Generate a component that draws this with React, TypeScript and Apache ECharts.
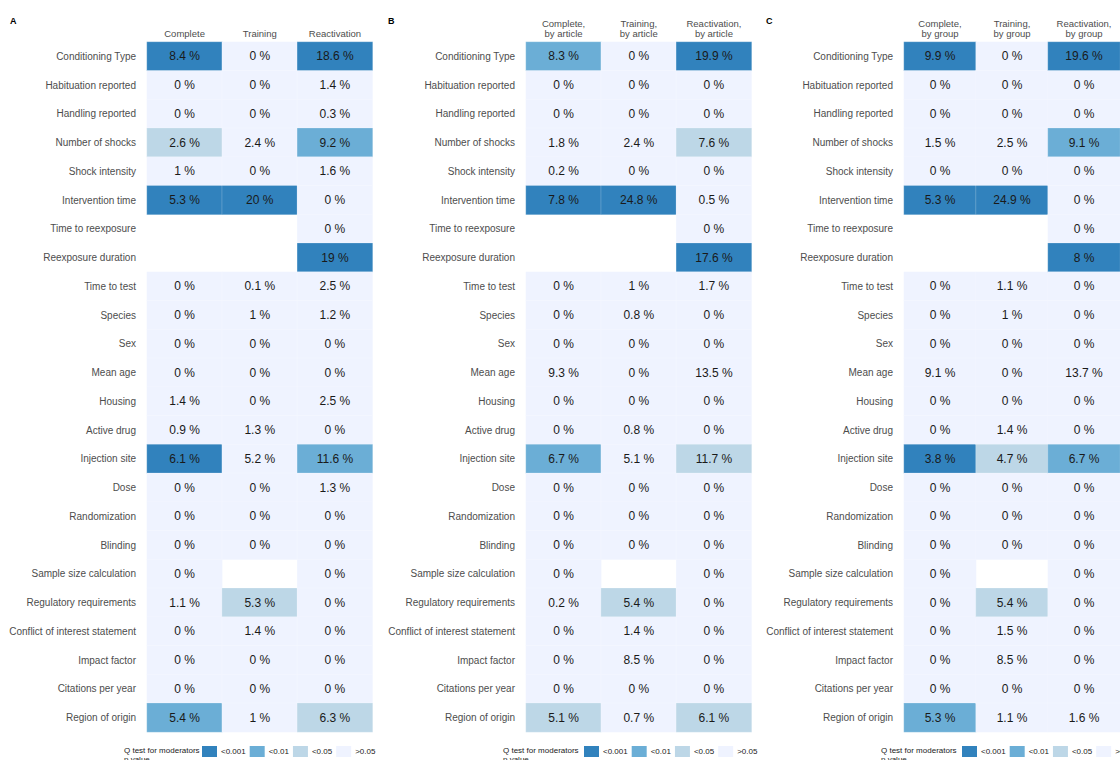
import React, { useEffect, useRef } from "react";
import * as echarts from "echarts";

const rows = [
  "Conditioning Type", "Habituation reported", "Handling reported", "Number of shocks",
  "Shock intensity", "Intervention time", "Time to reexposure", "Reexposure duration",
  "Time to test", "Species", "Sex", "Mean age", "Housing", "Active drug", "Injection site",
  "Dose", "Randomization", "Blinding", "Sample size calculation", "Regulatory requirements",
  "Conflict of interest statement", "Impact factor", "Citations per year", "Region of origin",
];

const colsA = ["Complete", "Training", "Reactivation"];
const colsB = ["Complete,\nby article", "Training,\nby article", "Reactivation,\nby article"];
const colsC = ["Complete,\nby group", "Training,\nby group", "Reactivation,\nby group"];

const pLevels = ["<0.001", "<0.01", "<0.05", ">0.05"];
const pColors = ["#3182bd", "#6baed6", "#bdd7e7", "#eff3ff"];

// Panel A values (% heterogeneity explained) and p-level index (0:<0.001, 1:<0.01, 2:<0.05, 3:>0.05)
const aCompleteVal = [8.4, 0, 0, 2.6, 1, 5.3, null, null, 0, 0, 0, 0, 1.4, 0.9, 6.1, 0, 0, 0, 0, 1.1, 0, 0, 0, 5.4];
const aCompleteSig = [0, 3, 3, 2, 3, 0, null, null, 3, 3, 3, 3, 3, 3, 0, 3, 3, 3, 3, 3, 3, 3, 3, 1];
const aTrainingVal = [0, 0, 0, 2.4, 0, 20, null, null, 0.1, 1, 0, 0, 0, 1.3, 5.2, 0, 0, 0, null, 5.3, 1.4, 0, 0, 1];
const aTrainingSig = [3, 3, 3, 3, 3, 0, null, null, 3, 3, 3, 3, 3, 3, 3, 3, 3, 3, null, 2, 3, 3, 3, 3];
const aReactVal = [18.6, 1.4, 0.3, 9.2, 1.6, 0, 0, 19, 2.5, 1.2, 0, 0, 2.5, 0, 11.6, 1.3, 0, 0, 0, 0, 0, 0, 0, 6.3];
const aReactSig = [0, 3, 3, 1, 3, 3, 3, 0, 3, 3, 3, 3, 3, 3, 1, 3, 3, 3, 3, 3, 3, 3, 3, 2];

// Panel B
const bCompleteVal = [8.3, 0, 0, 1.8, 0.2, 7.8, null, null, 0, 0, 0, 9.3, 0, 0, 6.7, 0, 0, 0, 0, 0.2, 0, 0, 0, 5.1];
const bCompleteSig = [1, 3, 3, 3, 3, 0, null, null, 3, 3, 3, 3, 3, 3, 1, 3, 3, 3, 3, 3, 3, 3, 3, 2];
const bTrainingVal = [0, 0, 0, 2.4, 0, 24.8, null, null, 1, 0.8, 0, 0, 0, 0.8, 5.1, 0, 0, 0, null, 5.4, 1.4, 8.5, 0, 0.7];
const bTrainingSig = [3, 3, 3, 3, 3, 0, null, null, 3, 3, 3, 3, 3, 3, 3, 3, 3, 3, null, 2, 3, 3, 3, 3];
const bReactVal = [19.9, 0, 0, 7.6, 0, 0.5, 0, 17.6, 1.7, 0, 0, 13.5, 0, 0, 11.7, 0, 0, 0, 0, 0, 0, 0, 0, 6.1];
const bReactSig = [0, 3, 3, 2, 3, 3, 3, 0, 3, 3, 3, 3, 3, 3, 2, 3, 3, 3, 3, 3, 3, 3, 3, 2];

// Panel C
const cCompleteVal = [9.9, 0, 0, 1.5, 0, 5.3, null, null, 0, 0, 0, 9.1, 0, 0, 3.8, 0, 0, 0, 0, 0, 0, 0, 0, 5.3];
const cCompleteSig = [0, 3, 3, 3, 3, 0, null, null, 3, 3, 3, 3, 3, 3, 0, 3, 3, 3, 3, 3, 3, 3, 3, 1];
const cTrainingVal = [0, 0, 0, 2.5, 0, 24.9, null, null, 1.1, 1, 0, 0, 0, 1.4, 4.7, 0, 0, 0, null, 5.4, 1.5, 8.5, 0, 1.1];
const cTrainingSig = [3, 3, 3, 3, 3, 0, null, null, 3, 3, 3, 3, 3, 3, 2, 3, 3, 3, null, 2, 3, 3, 3, 3];
const cReactVal = [19.6, 0, 0, 9.1, 0, 0, 0, 8, 0, 0, 0, 13.7, 0, 0, 6.7, 0, 0, 0, 0, 0, 0, 0, 0, 1.6];
const cReactSig = [0, 3, 3, 1, 3, 3, 3, 0, 3, 3, 3, 3, 3, 3, 1, 3, 3, 3, 3, 3, 3, 3, 3, 3];

const panelLetters = ["A", "B", "C"];

const FONT = "'Liberation Sans', Arial, sans-serif";

function build(vals: (number | null)[][], sigs: (number | null)[][]) {
  const out: any[] = [];
  vals.forEach((col, j) => {
    col.forEach((v, i) => {
      if (v !== null && sigs[j][i] !== null) out.push([j, i, v, sigs[j][i]]);
    });
  });
  return out;
}

export default function App() {
  const ref = useRef<HTMLDivElement>(null);
  useEffect(() => {
    if (!ref.current) return;
    const chart = echarts.init(ref.current, undefined, { renderer: "svg" });

    const panels = [
      { cols: colsA, data: build([aCompleteVal, aTrainingVal, aReactVal], [aCompleteSig, aTrainingSig, aReactSig]) },
      { cols: colsB, data: build([bCompleteVal, bTrainingVal, bReactVal], [bCompleteSig, bTrainingSig, bReactSig]) },
      { cols: colsC, data: build([cCompleteVal, cTrainingVal, cReactVal], [cCompleteSig, cTrainingSig, cReactSig]) },
    ];
    const gridLeft = [147, 526, 904];
    const letterX = [10, 388, 766];
    const legendTitleX = [124, 503, 881];
    const legendX = [202, 584, 962];

    const option: any = {
      animation: false,
      backgroundColor: "#ffffff",
      textStyle: { fontFamily: FONT },
      grid: panels.map((_, k) => ({ left: gridLeft[k], top: 42, width: 225.5, height: 690 })),
      xAxis: panels.map((p, k) => ({
        type: "category",
        gridIndex: k,
        position: "top",
        data: p.cols,
        axisLine: { show: false },
        axisTick: { show: false },
        splitLine: { show: false },
        axisLabel: { color: "#4d4d4d", fontSize: 9.5, lineHeight: 10, margin: 4, fontFamily: FONT, interval: 0 },
      })),
      yAxis: panels.map((_, k) => ({
        type: "category",
        gridIndex: k,
        inverse: true,
        data: rows,
        axisLine: { show: false },
        axisTick: { show: false },
        splitLine: { show: false },
        axisLabel: { color: "#4d4d4d", fontSize: 10, margin: 11, fontFamily: FONT, interval: 0 },
      })),
      visualMap: panels.map((_, k) => ({
        type: "piecewise",
        seriesIndex: k,
        dimension: 3,
        orient: "horizontal",
        left: legendX[k],
        top: 746,
        itemWidth: 15,
        itemHeight: 11,
        itemGap: 4,
        textGap: 4,
        itemSymbol: "rect",
        selectedMode: false,
        padding: 0,
        textStyle: { color: "#1a1a1a", fontSize: 8, fontFamily: FONT },
        pieces: pLevels.map((lab, i) => ({ value: i, label: lab, color: pColors[i] })),
      })),
      graphic: [
        ...panelLetters.map((l, k) => ({
          type: "text",
          left: letterX[k],
          top: 16,
          style: { text: l, fontSize: 9, fontWeight: "bold", fill: "#000", fontFamily: FONT },
        })),
        ...panels.map((_, k) => ({
          type: "text",
          left: legendTitleX[k],
          top: 746,
          style: { text: "Q test for moderators\np value", fontSize: 8, lineHeight: 9, fill: "#1a1a1a", fontFamily: FONT },
        })),
      ],
      series: panels.map((p, k) => ({
        type: "heatmap",
        xAxisIndex: k,
        yAxisIndex: k,
        data: p.data,
        itemStyle: { borderColor: "rgba(255,255,255,0.35)", borderWidth: 0.6 },
        label: {
          show: true,
          color: "#1a1a1a",
          fontSize: 12,
          fontFamily: FONT,
          formatter: (params: any) => `${params.value[2]} %`,
        },
        emphasis: { disabled: true },
      })),
    };
    chart.setOption(option);
    return () => chart.dispose();
  }, []);

  return <div ref={ref} style={{ position: "absolute", left: 0, top: 0, width: 1120, height: 760 }} />;
}
